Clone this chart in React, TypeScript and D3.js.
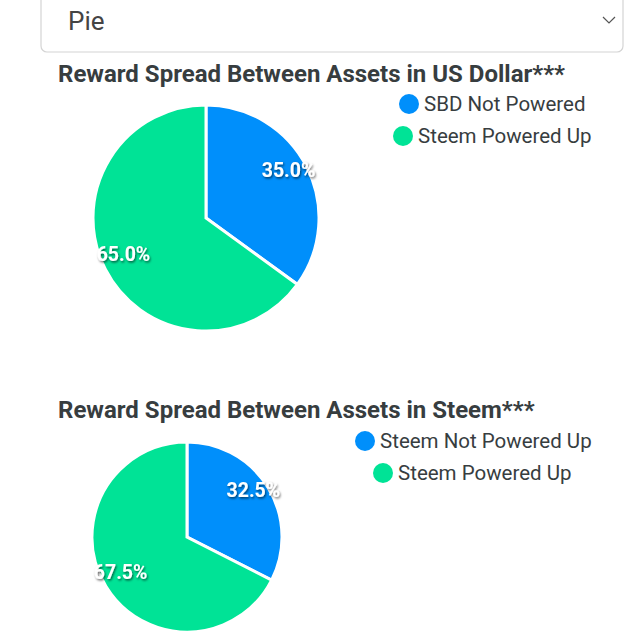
import React from 'react';
import * as d3 from 'd3';

const selectLabel = 'Pie';

const usdTitle = 'Reward Spread Between Assets in US Dollar***';
const usdCategories = ['SBD Not Powered', 'Steem Powered Up'];
const usdValues = [35, 65];

const steemTitle = 'Reward Spread Between Assets in Steem***';
const steemCategories = ['Steem Not Powered Up', 'Steem Powered Up'];
const steemValues = [32.5, 67.5];

const colors = ['#008FFB', '#00E396'];
const textColor = '#373d3f';
const font = 'Roboto, "Noto Sans", sans-serif';

type PieProps = {
  title: string;
  categories: string[];
  values: number[];
  top: number;
  cx: number;
  cy: number;
  r: number;
  legendXs: number[];
  legendY: number;
};

const PieBlock = ({ title, categories, values, top, cx, cy, r, legendXs, legendY }: PieProps) => {
  const pie = d3.pie<number>().sort(null).value(d => d);
  const arcs = pie(values);
  const arc = d3.arc<d3.PieArcDatum<number>>().innerRadius(0).outerRadius(r);
  const labelArc = d3.arc<d3.PieArcDatum<number>>().innerRadius(r * 0.82).outerRadius(r * 0.82);
  const total = d3.sum(values);
  const fmt = d3.format('.1f');

  return (
    <g>
      <text x={58} y={top} fontFamily={font} fontWeight={700} fontSize={24} fill={textColor}>
        {title}
      </text>
      {/* legend rows, marker then label */}
      {categories.map((c, i) => (
        <g key={c} transform={`translate(${legendXs[i]}, ${legendY + i * 32})`}>
          <circle r={10} fill={colors[i]} />
          <text x={15} y={7} fontFamily={font} fontSize={20.5} fill={textColor}>
            {c}
          </text>
        </g>
      ))}
      <g transform={`translate(${cx}, ${cy})`}>
        {arcs.map((a, i) => (
          <path key={i} d={arc(a) || ''} fill={colors[i]} stroke="#fff" strokeWidth={3} />
        ))}
        {arcs.map((a, i) => {
          const [x, y] = labelArc.centroid(a);
          return (
            <text
              key={'l' + i}
              x={x}
              y={y - 6}
              dy="0.35em"
              textAnchor="middle"
              fontFamily={font}
              fontWeight={700}
              fontSize={19.5}
              fill="#fff"
              filter="url(#lblShadow)"
            >
              {fmt((a.data / total) * 100)}%
            </text>
          );
        })}
      </g>
    </g>
  );
};

export default function App() {
  return (
    <svg
      width={640}
      height={642}
      style={{ position: 'absolute', left: 0, top: 0, background: '#fff' }}
    >
      <defs>
        <filter id="lblShadow" x="-20%" y="-40%" width="140%" height="180%">
          <feDropShadow dx="1" dy="1.5" stdDeviation="1.3" floodColor="#000" floodOpacity="0.6" />
        </filter>
      </defs>
      {/* select box */}
      <rect x={41} y={-10} width={582} height={62} rx={6} fill="#fff" stroke="#d4d4d4" strokeWidth={1.2} />
      <text x={68} y={30} fontFamily={font} fontSize={26} fill="#444">{selectLabel}</text>
      <path d="M603,17 L609,23 L615,17" fill="none" stroke="#555" strokeWidth={1.2} />

      <PieBlock
        title={usdTitle}
        categories={usdCategories}
        values={usdValues}
        top={82}
        cx={206}
        cy={218}
        r={113}
        legendXs={[409, 403]}
        legendY={104}
      />
      <PieBlock
        title={steemTitle}
        categories={steemCategories}
        values={steemValues}
        top={418}
        cx={187}
        cy={537}
        r={95}
        legendXs={[365, 383]}
        legendY={441}
      />
    </svg>
  );
}
